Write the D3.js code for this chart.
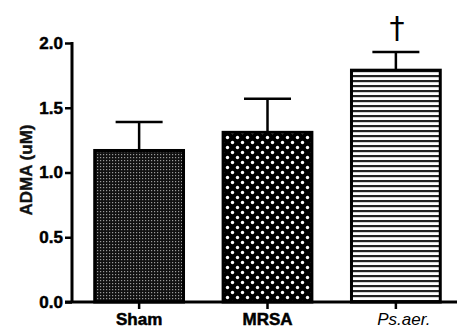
<!DOCTYPE html>
<html>
<head>
<meta charset="utf-8">
<script src="https://cdn.jsdelivr.net/npm/d3@7"></script>
<style>
  body { margin: 0; background: #fff; }
  text { font-family: "Liberation Sans", Arial, sans-serif; }
</style>
</head>
<body>
<script>
// chart size
var w = 457;
var h = 333;

// data
var groups = ["Sham", "MRSA", "Ps.aer."];
var means = [1.17, 1.31, 1.79];
var upper = [1.39, 1.57, 1.93];   // top of error bar
var yTicks = [0.0, 0.5, 1.0, 1.5, 2.0];
var marks = ["", "", "\u2020"];

var svg = d3.select("body")
  .append("svg")
  .attr("width", w)
  .attr("height", h);

// fill patterns
var defs = svg.append("defs");

var p1 = defs.append("pattern")
  .attr("id", "fineDots")
  .attr("patternUnits", "userSpaceOnUse")
  .attr("width", 3).attr("height", 3);
p1.append("rect").attr("width", 3).attr("height", 3).attr("fill", "#111");
p1.append("rect").attr("x", 1).attr("y", 1).attr("width", 1.2).attr("height", 1.2).attr("fill", "#9a9a9a");

var p2 = defs.append("pattern")
  .attr("id", "bigDots")
  .attr("patternUnits", "userSpaceOnUse")
  .attr("width", 10).attr("height", 10);
p2.append("rect").attr("width", 10).attr("height", 10).attr("fill", "#000");
p2.append("circle").attr("cx", 2.5).attr("cy", 2.5).attr("r", 1.7).attr("fill", "#fff");
p2.append("circle").attr("cx", 7.5).attr("cy", 7.5).attr("r", 1.7).attr("fill", "#fff");

var p3 = defs.append("pattern")
  .attr("id", "hLines")
  .attr("patternUnits", "userSpaceOnUse")
  .attr("width", 10).attr("height", 5);
p3.append("rect").attr("width", 10).attr("height", 5).attr("fill", "#fff");
p3.append("rect").attr("y", 0).attr("width", 10).attr("height", 2.2).attr("fill", "#222");

var fills = ["url(#fineDots)", "url(#bigDots)", "url(#hLines)"];

// scales
var x = d3.scaleBand()
  .domain(groups)
  .range([75, 460])
  .paddingInner(0.285)
  .paddingOuter(0.142);

var y = d3.scaleLinear()
  .domain([0, 2])
  .range([302, 43]);

// y axis
var yAxis = svg.append("g")
  .attr("transform", "translate(72,0)")
  .call(d3.axisLeft(y).tickValues(yTicks).tickFormat(d3.format(".1f")).tickSize(7).tickPadding(2));
yAxis.select(".domain").attr("stroke", "#000").attr("stroke-width", 3)
  .attr("d", "M0," + (y(2) - 1) + "V" + y(0));
yAxis.selectAll(".tick line").attr("stroke", "#000").attr("stroke-width", 2.5);
yAxis.selectAll(".tick text")
  .attr("fill", "#000")
  .attr("stroke", "#000")
  .attr("stroke-width", 0.5)
  .style("font-size", "17px")
  .style("font-weight", "bold");

// bars
svg.selectAll(".bar")
  .data(groups)
  .enter()
  .append("rect")
  .attr("class", "bar")
  .attr("x", function(d) { return x(d) + 1.5; })
  .attr("y", function(d, i) { return y(means[i]); })
  .attr("width", x.bandwidth() - 3)
  .attr("height", function(d, i) { return y(0) - y(means[i]); })
  .attr("fill", function(d, i) { return fills[i]; })
  .attr("stroke", "#000")
  .attr("stroke-width", 3);

// error bars
var capW = 47;
groups.forEach(function(g, i) {
  var cx = x(g) + x.bandwidth() / 2;
  svg.append("line")
    .attr("x1", cx).attr("x2", cx)
    .attr("y1", y(means[i])).attr("y2", y(upper[i]))
    .attr("stroke", "#000").attr("stroke-width", 2.5);
  svg.append("line")
    .attr("x1", cx - capW / 2).attr("x2", cx + capW / 2)
    .attr("y1", y(upper[i])).attr("y2", y(upper[i]))
    .attr("stroke", "#000").attr("stroke-width", 2.5);
  if (marks[i]) {
    svg.append("text")
      .attr("x", cx + 1)
      .attr("y", y(upper[i]) - 14)
      .attr("text-anchor", "middle")
      .style("font-family", "'DejaVu Sans', sans-serif")
      .style("font-size", "30px")
      .text(marks[i]);
  }
});

// x axis
var xAxis = svg.append("g")
  .attr("transform", "translate(0," + y(0) + ")")
  .call(d3.axisBottom(x).tickSize(7).tickPadding(3));
xAxis.select(".domain").attr("stroke", "#000").attr("stroke-width", 3)
  .attr("d", "M65,0H457");
xAxis.selectAll(".tick line").attr("stroke", "#000").attr("stroke-width", 2.5);
xAxis.selectAll(".tick text")
  .attr("fill", "#000")
  .attr("dy", "0.75em")
  .attr("stroke", function(d) { return d === "Ps.aer." ? "none" : "#000"; })
  .attr("stroke-width", 0.5)
  .style("font-size", "17px")
  .style("font-weight", function(d) { return d === "Ps.aer." ? "normal" : "bold"; })
  .style("font-style", function(d) { return d === "Ps.aer." ? "italic" : "normal"; })
  .attr("dx", function(d) { return d === "Ps.aer." ? 8 : 0; });

// y axis title
svg.append("text")
  .attr("transform", "translate(32,170) rotate(-90)")
  .attr("text-anchor", "middle")
  .attr("fill", "#111")
  .attr("stroke", "#111")
  .attr("stroke-width", 0.4)
  .style("font-size", "17px")
  .style("font-weight", "bold")
  .text("ADMA (uM)");
</script>
</body>
</html>
